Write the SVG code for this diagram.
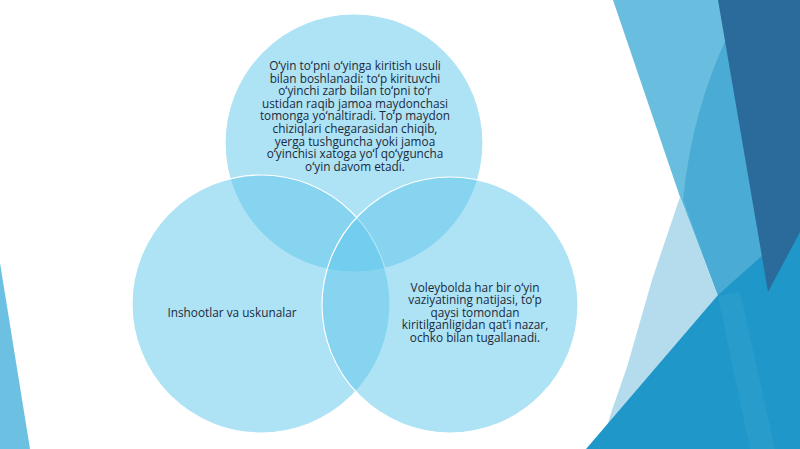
<svg xmlns="http://www.w3.org/2000/svg" width="800" height="449" viewBox="0 0 800 449">
<style>
.c{fill:rgb(93,197,235);fill-opacity:0.5;stroke:#ffffff;stroke-width:1.2}
.t{font-family:"Open Sans","Noto Sans","Liberation Sans",sans-serif;font-size:11.8px;fill:#1b2a3a;text-anchor:middle}
</style>
<rect width="800" height="449" fill="#ffffff"/>
<g id="background">
<polygon points="0,263 30,449 0,449" fill="#6cc0e1"/>
<polygon points="613,0 800,0 800,300 718,296 680,197" fill="#69bee0"/>
<path d="M728,35 Q692,110 683,200 L718,296 L775,300 L760,0 Z" fill="#4aabd4"/>
<polygon points="680,197 718,296 604,437 611,413 627,367 652,280" fill="#b5dcec"/>
<polygon points="586,449 718,295 800,222 800,449" fill="#1f98c9"/>
<polygon points="718,0 800,0 800,232 768,292" fill="#2a6b9b"/>
<polygon points="718,296 740,292 775,449 750,449" fill="#3aa6d2" fill-opacity="0.35"/>
<line x1="621" y1="40" x2="664" y2="240" stroke="#ffffff" stroke-opacity="0.45" stroke-width="1.5"/>
</g>
<g id="circle-top">
<circle class="c" cx="354" cy="143" r="129"/>
</g>
<g id="circle-left">
<circle class="c" cx="261" cy="304" r="129"/>
</g>
<g id="circle-right">
<circle class="c" cx="450" cy="305" r="128"/>
</g>
<g id="text-top">
<text class="t" x="355" y="70"><tspan x="355" dy="0">Oʻyin toʻpni oʻyinga kiritish usuli</tspan><tspan x="355" dy="12.6">bilan boshlanadi: toʻp kirituvchi</tspan><tspan x="355" dy="12.6">oʻyinchi zarb bilan toʻpni toʻr</tspan><tspan x="355" dy="12.6">ustidan raqib jamoa maydonchasi</tspan><tspan x="355" dy="12.6">tomonga yoʻnaltiradi. Toʻp maydon</tspan><tspan x="355" dy="12.6">chiziqlari chegarasidan chiqib,</tspan><tspan x="355" dy="12.6">yerga tushguncha yoki jamoa</tspan><tspan x="355" dy="12.6">oʻyinchisi xatoga yoʻl qoʻyguncha</tspan><tspan x="355" dy="12.6">oʻyin davom etadi.</tspan></text>
</g>
<g id="text-left">
<text class="t" x="232" y="317">Inshootlar va uskunalar</text>
</g>
<g id="text-right">
<text class="t" x="475" y="291.5"><tspan x="475" dy="0">Voleybolda har bir oʻyin</tspan><tspan x="475" dy="12.6">vaziyatining natijasi, toʻp</tspan><tspan x="475" dy="12.6">qaysi tomondan</tspan><tspan x="475" dy="12.6">kiritilganligidan qatʼi nazar,</tspan><tspan x="475" dy="12.6">ochko bilan tugallanadi.</tspan></text>
</g>
</svg>
